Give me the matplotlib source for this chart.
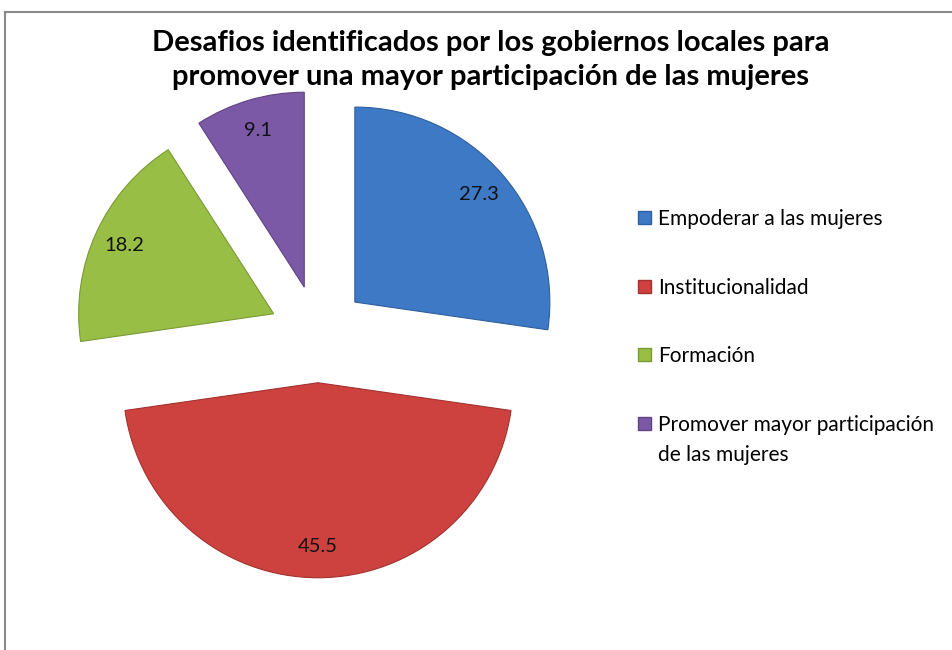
import matplotlib.pyplot as plt
from matplotlib.patches import Patch
from matplotlib.lines import Line2D

# ── data ──────────────────────────────────────────────────────────────────────
labels = ["Empoderar a las mujeres", "Institucionalidad", "Formación",
          "Promover mayor participación\nde las mujeres"]
values = [27.3, 45.5, 18.2, 9.1]
colors = ["#3D79C4", "#CD423E", "#99BE46", "#7B59A6"]
edges  = ["#2F5F9C", "#A3312E", "#7A9A35", "#5F4383"]

title = ("Desafios identificados por los gobiernos locales para\n"
         "promover una mayor participación de las mujeres")

plt.rcParams["font.family"] = ["Lato", "DejaVu Sans"]

W, H = 952, 650
fig = plt.figure(figsize=(W / 100, H / 100), dpi=100)
ax = fig.add_axes([0, 0, 1, 1])

# pie centre / radius in pixels
cx, cy, R = 318, 334, 195

wedges, texts = ax.pie(values, colors=colors, startangle=90, counterclock=False,
                       explode=[0.25] * 4, labels=[f"{v:.1f}" for v in values],
                       labeldistance=0.84,
                       textprops=dict(fontsize=14.5, color="#111111",
                                      ha="center", va="center"))
for w, e in zip(wedges, edges):
    w.set_edgecolor(e)
    w.set_linewidth(0.8)

ax.set_xlim(-cx / R, (W - cx) / R)
ax.set_ylim(-(H - cy) / R, cy / R)
ax.set_aspect("auto")
ax.axis("off")

fig.text(0.515, 1 - 60 / H, title, ha="center", va="center", fontsize=21,
         fontweight="bold", linespacing=1.38)

# legend: handle sits on the first line of a wrapped label, as in Excel
handles = [Patch(facecolor=c, edgecolor=e) for c, e in zip(colors, edges)]
leg = fig.legend(handles, [l.split("\n")[0] for l in labels], loc="upper left",
                 bbox_to_anchor=(638 / W, 1 - 209 / H), frameon=False,
                 fontsize=15, handlelength=0.6, handleheight=0.6,
                 handletextpad=0.35, labelspacing=2.33, borderaxespad=0,
                 borderpad=0)

fig.canvas.draw()
for lab, t in zip(labels, leg.get_texts()):
    extra = lab.split("\n")[1:]
    if extra:
        bb = t.get_window_extent()
        fig.text(bb.x0 / W, (bb.y0 - 30) / H, "\n".join(extra),
                 fontsize=15, ha="left", va="bottom")

# chart border (right/bottom fall outside the image)
border = dict(color="#8A8A8A", lw=1.5)
fig.add_artist(Line2D([5 / W, 1], [1 - 12 / H] * 2, **border))
fig.add_artist(Line2D([5 / W] * 2, [0, 1 - 12 / H], **border))

fig.savefig("out.png", dpi=100)
